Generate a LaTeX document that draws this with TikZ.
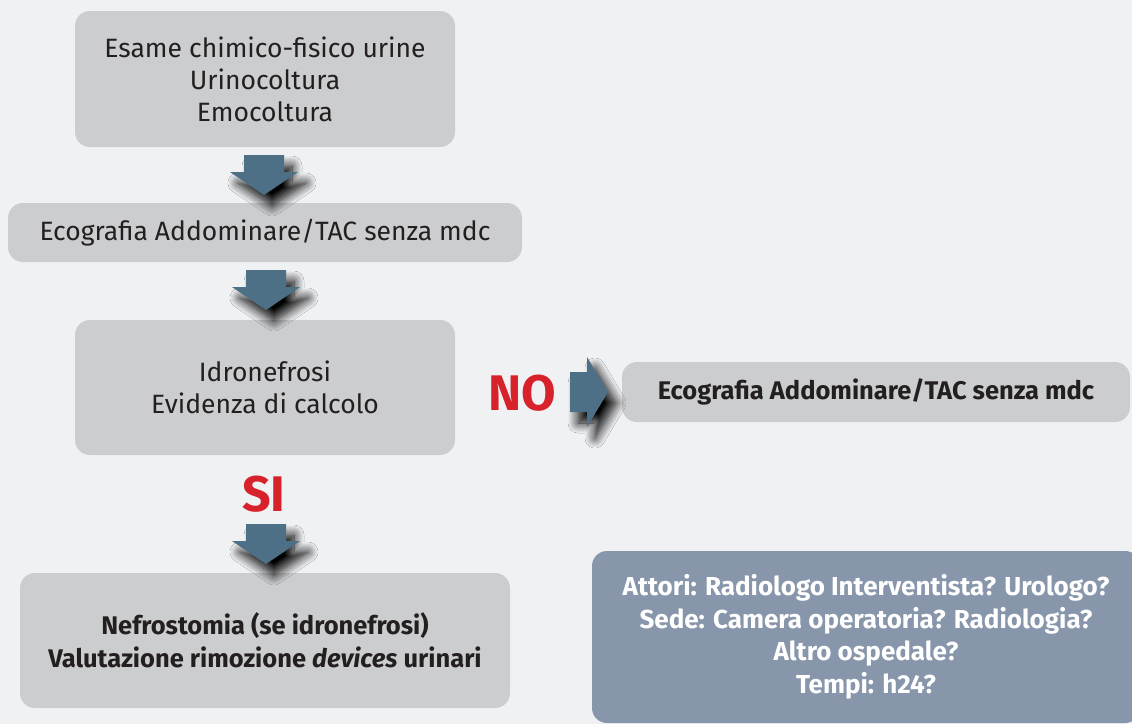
\documentclass[tikz,border=0pt]{standalone}
\usepackage{fontspec}
\setmainfont{Fira Sans}
\usetikzlibrary{shadows.blur}
\definecolor{bgc}{HTML}{F0F1F3}
\definecolor{boxc}{HTML}{CCCDCF}
\definecolor{bluebox}{HTML}{8796AB}
\definecolor{arrc}{HTML}{4D7086}
\definecolor{txtc}{HTML}{231F20}
\definecolor{redc}{HTML}{D7222C}
\tikzset{
  greybox/.style={rounded corners=15pt, fill=boxc, inner sep=0pt, align=center, text=txtc,
    font=\fontsize{26.5}{32}\selectfont},
  boldbox/.style={greybox, font=\fontsize{25.5}{33}\selectfont\bfseries},
  infobox/.style={rounded corners=15pt, fill=bluebox, inner sep=0pt, align=center, text=white,
    font=\fontsize{26}{32.5}\selectfont\bfseries},
  answer/.style={text=redc, font=\fontsize{50}{50}\selectfont\bfseries, inner sep=0pt},
  arrshadow/.style={fill=arrc, blur shadow={shadow xshift=8pt, shadow yshift=-11pt, shadow blur radius=10pt, shadow blur steps=12, shadow opacity=100}},
  downarr/.pic={\path[arrshadow] (-20,0) -- (20,0) -- (20,-17) -- (34,-17) -- (0,-40) -- (-34,-17) -- (-20,-17) -- cycle;},
  rightarr/.pic={\path[arrshadow] (0,20) -- (17,20) -- (17,35) -- (38,0) -- (17,-35) -- (17,-20) -- (0,-20) -- cycle;}
}
\begin{document}
\begin{tikzpicture}[x=1pt,y=1pt]
\fill[bgc] (0,0) rectangle (1132,-724);
\useasboundingbox (0,0) rectangle (1132,-724);

\node[greybox, minimum width=380pt, minimum height=136pt] (b1) at (265,-79)
  {Esame chimico-fisico urine\\Urinocoltura\\Emocoltura};
\node[greybox, minimum width=514pt, minimum height=59pt] (b2) at (265,-232.5)
  {Ecografia Addominare/TAC senza mdc};
\node[greybox, minimum width=380pt, minimum height=135pt] (b3) at (265,-387.5)
  {Idronefrosi\\Evidenza di calcolo};
\node[boldbox, minimum width=508pt, minimum height=60pt] (b4) at (876,-392)
  {Ecografia Addominare/TAC senza mdc};
\node[boldbox, minimum width=490pt, minimum height=135pt] (b5) at (265,-640.5)
  {Nefrostomia (se idronefrosi)\\Valutazione rimozione \textit{devices} urinari};
\node[infobox, minimum width=548pt, minimum height=172pt] (b6) at (866,-637)
  {Attori: Radiologo Interventista? Urologo?\\Sede: Camera operatoria? Radiologia?\\Altro ospedale?\\Tempi: h24?};

\node[answer] (no) at (522,-393) {NO};
\node[answer] (si) at (264,-494) {SI};

\pic at (264,-155) {downarr};
\pic at (266,-270) {downarr};
\pic at (266,-524) {downarr};
\pic at (570,-392) {rightarr};
\end{tikzpicture}
\end{document}
